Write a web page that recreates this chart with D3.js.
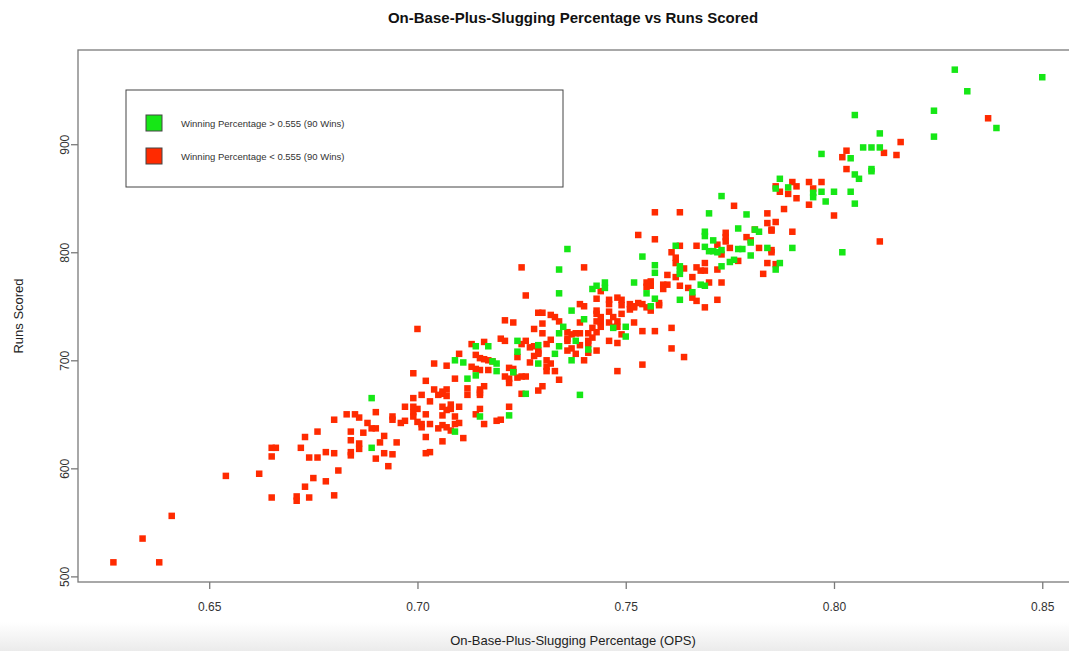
<!DOCTYPE html>
<html>
<head>
<meta charset="utf-8">
<script src="https://cdn.jsdelivr.net/npm/d3@7"></script>
<style>
body { margin: 0; background: #fff; }
svg { display: block; font-family: "Liberation Sans", Arial, Helvetica, sans-serif; }
</style>
</head>
<body>
<div id="chart"></div>
<script>
// teams over .555 (90 wins): [OPS, runs scored]
const aboveTeams = [
  [.829,969],[.850,962],[.832,949],[.805,927],[.824,931],[.839,915],[.811,910],[.824,907],
  [.807,897],[.809,897],[.811,897],[.797,891],[.804,887],[.805,872],[.806,868],[.809,877],
  [.809,875],[.797,856],[.800,856],[.798,847],[.804,856],[.805,845],[.802,800],[.787,868],
  [.786,859],[.789,860],[.795,855],[.795,851],[.773,852],[.770,836],[.779,835],[.777,822],
  [.781,821],[.782,819],[.769,819],[.769,815],[.771,811],[.780,809],[.769,805],[.777,803],
  [.778,803],[.784,804],[.790,804],[.770,801],[.771,801],[.772,800],[.773,802],[.780,797],
  [.776,793],[.775,791],[.773,787],[.787,790],[.786,784],[.768,770],[.769,769],[.762,806],
  [.754,796],[.757,788],[.757,781],[.763,787],[.763,783],[.763,780],[.766,763],[.763,756],
  [.752,772],[.743,769],[.745,772],[.745,767],[.742,766],[.755,762],[.757,757],[.756,750],
  [.740,738],[.747,730],[.750,731],[.750,722],[.741,710],[.739,668],[.734,762],[.737,746],
  [.735,731],[.734,725],[.738,718],[.724,718],[.714,713],[.717,713],[.729,714],[.734,713],
  [.724,708],[.733,706],[.709,700],[.711,698],[.718,699],[.719,697],[.719,690],[.723,689],
  [.729,697],[.737,700],[.714,686],[.712,683],[.726,669],[.715,648],[.722,649],[.709,634],
  [.689,665],[.689,619],[.736,803],[.734,784]
];

// teams under .555: [OPS, runs scored]
const belowTeams = [
  [.627,513],[.638,513],[.634,535],[.641,556],[.654,593],[.662,595],[.665,573],[.671,574],
  [.671,570],[.674,573],[.673,583],[.675,591],[.665,611],[.665,619],[.666,619],[.672,619],
  [.673,629],[.676,634],[.674,610],[.676,610],
  [.680,645],[.683,650],[.685,650],[.686,647],[.688,642],[.690,652],[.689,637],[.690,637],
  [.684,634],[.687,633],[.684,626],[.692,630],[.691,624],[.695,624],[.686,623],[.686,618],
  [.684,615],[.684,612],[.678,615],[.680,614],[.692,614],[.694,613],[.690,609],[.693,602],
  [.681,598],[.678,588],[.680,575],
  [.697,657],[.699,657],[.699,652],[.700,655],[.699,648],[.702,650],[.703,662],[.699,665],
  [.701,668],[.705,668],[.706,669],[.706,671],[.707,673],[.707,667],[.706,657],[.707,654],
  [.706,649],[.708,659],[.708,655],[.709,648],[.710,657],[.700,643],[.701,641],[.701,638],
  [.703,641],[.705,637],[.706,640],[.707,638],[.709,641],[.710,642],[.708,635],[.711,628],
  [.706,625],[.702,629],[.703,615],[.702,614],[.694,648],[.694,645],[.696,642],[.697,644],
  [.700,729],[.704,697],[.707,695],[.699,688],[.702,681],[.704,673],
  [.726,760],[.739,752],[.740,750],[.729,744],[.730,744],[.732,742],[.733,740],[.734,736],
  [.739,735],[.721,737],[.723,735],[.730,734],[.728,729],[.736,726],[.737,724],[.738,725],
  [.739,725],[.741,725],[.730,725],[.736,720],[.736,718],[.741,718],[.720,720],[.721,718],
  [.726,718],[.725,715],[.732,719],[.731,715],[.716,717],[.713,715],[.727,712],[.728,713],
  [.729,709],[.729,707],[.736,709],[.737,711],[.738,706],[.741,715],[.741,707],[.724,703],
  [.729,706],[.728,704],[.710,706],[.714,705],[.715,702],[.716,701],[.717,700],[.718,699],
  [.713,694],[.714,692],[.715,691],[.717,691],[.722,693],[.723,692],[.723,689],[.727,698],
  [.731,700],[.732,697],[.731,694],[.733,690],[.731,690],[.740,700],[.709,683],[.721,685],
  [.722,683],[.725,685],[.726,685],[.722,679],[.724,684],[.734,682],[.730,676],[.729,672],
  [.716,676],[.712,674],[.712,668],[.715,673],[.715,668],[.715,670],[.725,669],[.722,657],
  [.715,655],[.714,650],[.720,645],[.719,644],[.716,641],
  [.757,812],[.763,806],[.767,806],[.761,800],[.762,795],[.762,790],[.760,779],[.762,777],
  [.764,785],[.766,777],[.767,786],[.768,783],[.769,783],[.769,790],[.772,784],[.773,772],
  [.770,772],[.763,769],[.765,767],[.766,758],[.767,755],[.772,756],[.769,749],[.744,764],
  [.755,772],[.756,773],[.756,769],[.755,768],[.759,770],[.759,766],[.760,770],[.758,753],
  [.758,751],[.756,746],[.743,757],[.746,756],[.746,752],[.748,758],[.749,756],[.749,751],
  [.751,752],[.752,750],[.753,753],[.754,752],[.755,749],[.751,747],[.752,749],[.743,746],
  [.743,743],[.744,740],[.743,736],[.744,735],[.744,731],[.742,730],[.743,726],[.742,721],
  [.746,745],[.747,740],[.748,736],[.746,735],[.747,731],[.749,743],[.748,731],[.752,735],
  [.754,727],[.757,727],[.761,730],[.749,724],[.746,718],[.748,716],[.743,709],[.761,711],
  [.764,703],[.754,696],[.748,690],[.739,714],
  [.803,877],[.790,865],[.794,865],[.797,865],[.786,861],[.791,861],[.795,859],[.787,856],
  [.789,854],[.791,850],[.794,844],[.776,843],[.788,840],[.784,836],[.800,834],[.786,828],
  [.784,827],[.785,821],[.785,820],[.781,821],[.774,818],[.774,814],[.774,810],[.790,819],
  [.779,814],[.780,811],[.772,807],[.775,804],[.782,804],[.785,802],[.785,800],[.773,798],
  [.777,792],[.784,790],[.786,789],[.783,780],
  [.837,924],[.816,902],[.803,894],[.802,888],[.812,892],[.815,890],[.811,810],
  [.757,837],[.763,837],[.753,816],[.725,786],[.740,786]
];

const xTicks = [0.65, 0.70, 0.75, 0.80, 0.85];
const yTicks = [500, 600, 700, 800, 900];
const legendLabels = ["Winning Percentage > 0.555 (90 Wins)", "Winning Percentage < 0.555 (90 Wins)"];
const greenCol = "#16e716";
const redCol = "#ff2a00";

const W = 1069, H = 651;
const svg = d3.select("#chart").append("svg")
    .attr("width", W)
    .attr("height", H);

// faint grey band at the bottom of the screenshot
let grad = svg.append("defs").append("linearGradient")
    .attr("id", "fade").attr("x1", 0).attr("x2", 0).attr("y1", 0).attr("y2", 1);
grad.append("stop").attr("offset", "0%").attr("stop-color", "#ffffff");
grad.append("stop").attr("offset", "100%").attr("stop-color", "#ebebeb");
svg.append("rect").attr("x", 0).attr("y", 622).attr("width", W).attr("height", H - 622)
    .attr("fill", "url(#fade)");

// scales, padded like R does (4% each side)
let x = d3.scaleLinear().domain([0.6185, 0.8593]).range([78, 1081]);
let y = d3.scaleLinear().domain([494.8, 987.2]).range([582, 50]);

// points
let sz = 6.5;
function drawPts(data, col) {
    svg.append("g").selectAll("rect")
        .data(data)
        .enter()
        .append("rect")
            .attr("x", d => x(d[0]) - sz / 2)
            .attr("y", d => y(d[1]) - sz / 2)
            .attr("width", sz)
            .attr("height", sz)
            .attr("fill", col);
}
drawPts(belowTeams, redCol);
drawPts(aboveTeams, greenCol);

// box
svg.append("rect")
    .attr("x", 78).attr("y", 50)
    .attr("width", 1081 - 78).attr("height", 582 - 50)
    .attr("fill", "none")
    .attr("stroke", "#7a7a7a")
    .attr("stroke-width", 1.3);

// x axis
let xAxis = svg.append("g")
    .attr("transform", "translate(0,582)")
    .call(d3.axisBottom(x).tickValues(xTicks).tickFormat(d3.format(".2f")).tickSize(7).tickPadding(13));
xAxis.select(".domain").remove();
xAxis.selectAll("line").attr("stroke", "#7a7a7a").attr("stroke-width", 1.3);
xAxis.selectAll("text").attr("fill", "#333").style("font-size", "12px");

// y axis, labels turned sideways
let yAxis = svg.append("g")
    .attr("transform", "translate(78,0)")
    .call(d3.axisLeft(y).tickValues(yTicks).tickSize(7));
yAxis.select(".domain").remove();
yAxis.selectAll("line").attr("stroke", "#7a7a7a").attr("stroke-width", 1.3);
yAxis.selectAll("text")
    .attr("fill", "#333")
    .style("font-size", "12px")
    .style("text-anchor", "middle")
    .attr("transform", "rotate(-90)")
    .attr("x", 0)
    .attr("y", -9)
    .attr("dy", 0);

// titles
svg.append("text")
    .attr("x", 573).attr("y", 23)
    .attr("text-anchor", "middle")
    .style("font-size", "15px")
    .style("font-weight", "bold")
    .attr("fill", "#111")
    .text("On-Base-Plus-Slugging Percentage vs Runs Scored");

svg.append("text")
    .attr("x", 573).attr("y", 645)
    .attr("text-anchor", "middle")
    .style("font-size", "13px")
    .attr("fill", "#222")
    .text("On-Base-Plus-Slugging Percentage (OPS)");

svg.append("text")
    .attr("transform", "translate(23,316) rotate(-90)")
    .attr("text-anchor", "middle")
    .style("font-size", "13px")
    .attr("fill", "#222")
    .text("Runs Scored");

// legend
let leg = svg.append("g");
leg.append("rect")
    .attr("x", 126).attr("y", 90)
    .attr("width", 437).attr("height", 97)
    .attr("fill", "#fff")
    .attr("stroke", "#444")
    .attr("stroke-width", 1);

let legCols = [greenCol, redCol];
legendLabels.forEach(function(lab, i) {
    let cy = 123 + i * 33;
    leg.append("rect")
        .attr("x", 146).attr("y", cy - 8)
        .attr("width", 16).attr("height", 16)
        .attr("fill", legCols[i])
        .attr("stroke", "#444")
        .attr("stroke-width", 1);
    leg.append("text")
        .attr("x", 181).attr("y", cy + 3.5)
        .style("font-size", "9.5px")
        .attr("fill", "#333")
        .text(lab);
});
</script>
</body>
</html>
